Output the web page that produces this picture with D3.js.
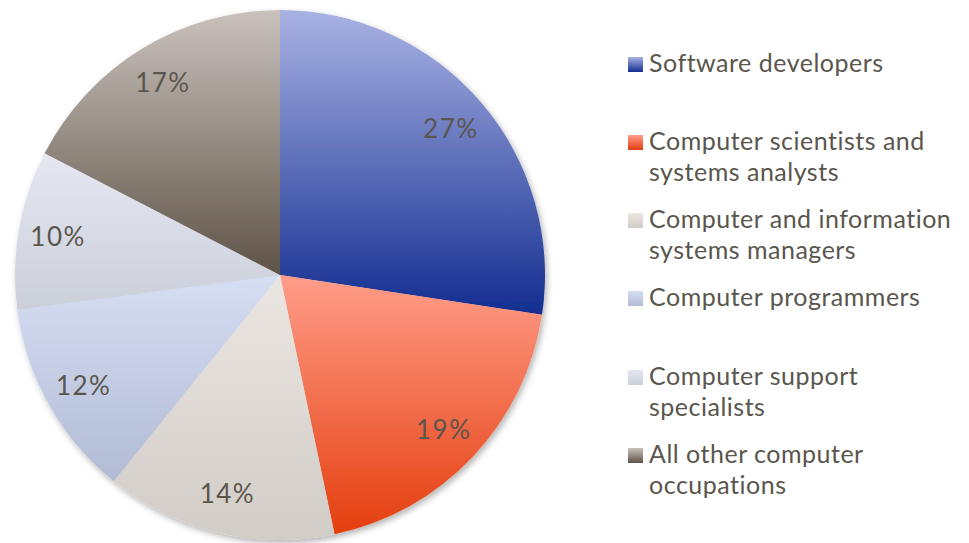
<!DOCTYPE html>
<html>
<head>
<meta charset="utf-8">
<script src="https://cdn.jsdelivr.net/npm/d3@7"></script>
<style>
  body { margin: 0; background: #fff; }
  svg text { font-family: Lato, "Liberation Sans", sans-serif; fill: #5a564d; font-variant-ligatures: none; }
</style>
</head>
<body>
<svg id="chart" width="969" height="543"></svg>
<script>
const categories = [
  ["Software developers"],
  ["Computer scientists and", "systems analysts"],
  ["Computer and information", "systems managers"],
  ["Computer programmers"],
  ["Computer support", "specialists"],
  ["All other computer", "occupations"]
];
// shares; labels show them rounded
const shares = [27.4, 19.3, 14.1, 12.1, 9.7, 17.4];
// top / bottom gradient stops for each slice
const topColors = ["#a9b2e3", "#ff9d8a", "#ebe6e1", "#d6def3", "#e5e8f1", "#c9c2bc"];
const bottomColors = ["#132d90", "#e43e0e", "#d1ccc6", "#b1bbd4", "#cbcfda", "#5f5347"];
const legendBaselines = [72, 150, 228, 306, 385, 463];

const svg = d3.select("#chart");
const cx = 280, cy = 275, radius = 265;

const defs = svg.append("defs");
categories.forEach((c, i) => {
  const g = defs.append("linearGradient")
    .attr("id", "grad" + i)
    .attr("x1", 0).attr("y1", 0).attr("x2", 0).attr("y2", 1);
  g.append("stop").attr("offset", "0%").attr("stop-color", topColors[i]);
  g.append("stop").attr("offset", "100%").attr("stop-color", bottomColors[i]);
});

defs.append("filter")
  .attr("id", "shadow")
  .attr("x", "-10%").attr("y", "-10%").attr("width", "120%").attr("height", "120%")
  .append("feDropShadow")
  .attr("dx", 2).attr("dy", 3).attr("stdDeviation", 3)
  .attr("flood-color", "#000").attr("flood-opacity", 0.3);

const pie = d3.pie().sort(null).value((d) => d);
const arcs = pie(shares);
const arc = d3.arc().innerRadius(0).outerRadius(radius);
const labelArc = d3.arc().innerRadius(radius * 0.85).outerRadius(radius * 0.85);

const g = svg.append("g").attr("transform", `translate(${cx},${cy})`);

g.append("g")
  .attr("filter", "url(#shadow)")
  .selectAll("path")
  .data(arcs)
  .enter()
  .append("path")
  .attr("d", arc)
  .attr("fill", (d, i) => `url(#grad${i})`);

g.selectAll("text.pct")
  .data(arcs)
  .enter()
  .append("text")
  .attr("class", "pct")
  .attr("transform", (d) => `translate(${labelArc.centroid(d)})`)
  .attr("text-anchor", "middle")
  .attr("dy", "0.36em")
  .style("font-size", "26px")
  .style("letter-spacing", "1.5px")
  .text((d) => Math.round(d.data) + "%");

// Legend
const legend = svg.append("g").selectAll("g")
  .data(categories)
  .enter()
  .append("g")
  .attr("transform", (d, i) => `translate(628,${legendBaselines[i]})`);

legend.append("rect")
  .attr("x", 0).attr("y", -15)
  .attr("width", 15).attr("height", 15)
  .attr("fill", (d, i) => `url(#grad${i})`);

legend.append("text")
  .attr("x", 21)
  .style("font-size", "25px")
  .style("letter-spacing", "0.5px")
  .selectAll("tspan")
  .data((d) => d)
  .enter()
  .append("tspan")
  .attr("x", 21)
  .attr("dy", (d, j) => (j === 0 ? 0 : 31))
  .text((d) => d);
</script>
</body>
</html>
